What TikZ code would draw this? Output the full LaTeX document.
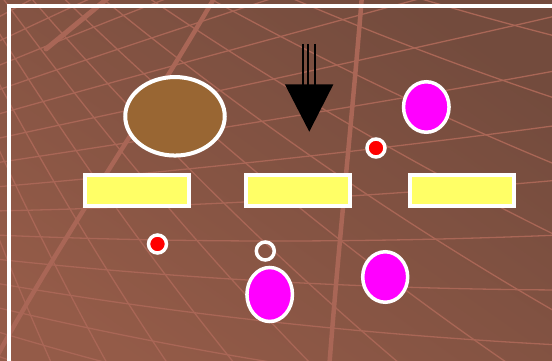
\documentclass[tikz,border=0pt]{standalone}
\usepackage{tikz}
\usetikzlibrary{shapes.geometric}
\definecolor{slidedark}{HTML}{734B3D}
\definecolor{slidelight}{HTML}{945B48}
\definecolor{meshpink}{HTML}{A96656}
\definecolor{potbrown}{HTML}{996633}
\definecolor{blobmagenta}{HTML}{FF00FF}
\definecolor{baryellow}{HTML}{FFFF66}
\tikzset{
  meshstroke/.style={draw=meshpink, line width=1.3pt},
  thickstroke/.style={draw=meshpink, line width=4.5pt, line cap=round},
  potellipse/.style={ellipse, draw=white, line width=4pt, fill=potbrown,
    inner sep=0pt, minimum width=99.5pt, minimum height=78.5pt},
  pinkblob/.style={ellipse, draw=white, line width=3.5pt, fill=blobmagenta,
    inner sep=0pt, minimum width=45.5pt, minimum height=50.5pt},
  yellowbar/.style={rectangle, draw=white, line width=4pt, fill=baryellow,
    inner sep=0pt, minimum width=103.5pt, minimum height=31pt},
  reddot/.style={circle, draw=white, line width=3.5pt, fill=red,
    inner sep=0pt, minimum size=18pt}
}
\begin{document}
\begin{tikzpicture}[x=1pt,y=-1pt]
  \useasboundingbox (0,0) rectangle (552,361);
  \begin{scope}
    \clip (0,0) rectangle (552,361);
    \shade[top color=slidedark, bottom color=slidelight, shading angle=-35]
      (-10,-10) rectangle (562,371);
    \foreach \a in {10,14.5,...,85}
      \draw[meshstroke] (-150,-230)
        .. controls ([shift={(-150,-230)}]{\a+8}:317)
        and ([shift={(-150,-230)}]{\a+4}:638) .. ([shift={(-150,-230)}]\a:950);
    \foreach \k in {-9,...,7}
      \draw[meshstroke] (-5,{235+24*\k})
        .. controls (180,{235+36*\k+8}) and (370,{235+46*\k+8}) .. (560,{235+55*\k});
    \draw[thickstroke, line width=5pt] (46,49) -- (108,-2);
    \draw[thickstroke] (216,-5) .. controls (150,110) and (60,240) .. (-5,360);
    \draw[thickstroke] (362,-5) .. controls (352,120) and (338,250) .. (329,370);
    \draw[white, line width=3.5pt] (8.8,380) -- (8.8,6.2) -- (570,6.2);
  \end{scope}

  \coordinate (tip) at (309.3,131.7);
  \fill[black] (285,84.5) -- (333.3,84.5) -- (tip) -- cycle;
  \foreach \x in {302.9,307.9,314.8}
    \draw[black, line width=2.6pt] (\x,44) -- (\x,85.5);

  \node[potellipse] (pot) at (175,116.3) {};
  \node[pinkblob] (blobtop) at (426.3,107) {};
  \node[pinkblob, minimum height=54pt] (bloblow) at (269.7,294.5) {};
  \node[pinkblob, minimum width=45pt] (blobmid) at (385.2,277) {};

  \node[yellowbar] (barleft) at (137,190.8) {};
  \node[yellowbar] (barcentre) at (298,190.8) {};
  \node[yellowbar] (barright) at (462.2,190.8) {};

  \node[reddot] (dotleft) at (157.5,244) {};
  \node[reddot] (dotright) at (376,148) {};
  \node[reddot, fill=none] (ring) at (265.3,251) {};
\end{tikzpicture}
\end{document}
